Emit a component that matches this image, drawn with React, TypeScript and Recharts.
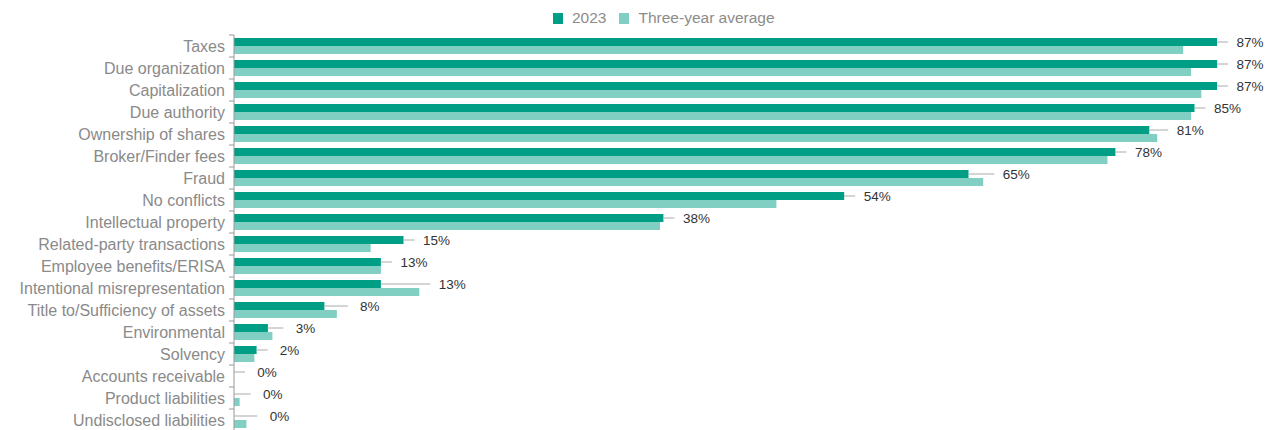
import React from 'react';
import { BarChart, Bar, XAxis, YAxis } from 'recharts';

const categories = [
  'Taxes',
  'Due organization',
  'Capitalization',
  'Due authority',
  'Ownership of shares',
  'Broker/Finder fees',
  'Fraud',
  'No conflicts',
  'Intellectual property',
  'Related-party transactions',
  'Employee benefits/ERISA',
  'Intentional misrepresentation',
  'Title to/Sufficiency of assets',
  'Environmental',
  'Solvency',
  'Accounts receivable',
  'Product liabilities',
  'Undisclosed liabilities',
];
const values2023 = [87, 87, 87, 85, 81, 78, 65, 54, 38, 15, 13, 13, 8, 3, 2, 0, 0, 0];
const valuesAvg = [84, 84.7, 85.6, 84.7, 81.7, 77.3, 66.3, 48, 37.7, 12.1, 13, 16.4, 9.1, 3.4, 1.8, 0, 0.5, 1.1];
const xMax = 90;

const DARK = '#009e85';
const LIGHT = '#80cfc2';
const FONT = '"Liberation Sans", Arial, sans-serif';

const WIDTH = 1266;
const HEIGHT = 431;
const MARGIN = { top: 35, right: 15, bottom: 0, left: 0 };
const Y_AXIS_W = 234;
const BAR = 8;
const PLOT_W = WIDTH - MARGIN.left - MARGIN.right - Y_AXIS_W;
const PLOT_H = HEIGHT - MARGIN.top - MARGIN.bottom;
const BAND = PLOT_H / categories.length;
const PPU = PLOT_W / xMax;

const data = categories.map((name, i) => ({
  name,
  y2023: values2023[i],
  avg: valuesAvg[i],
}));

// category label, boundary tick, and the leader + value label of the 2023 bar
const CategoryTick = (props: any) => {
  const { x, y, payload, index } = props;
  const v = values2023[index];
  const start = x + v * PPU;
  const reach = x + Math.max(v, valuesAvg[index]) * PPU + 11;
  const cy = y - BAR / 2;
  return (
    <g>
      <line x1={x - 5} x2={x} y1={y - BAND / 2} y2={y - BAND / 2} stroke="#999" />
      <text x={x - 9} y={y} dy="0.35em" textAnchor="end" fontSize={16} fill="#8a8a8a">
        {payload.value}
      </text>
      <line x1={start} x2={reach} y1={cy} y2={cy} stroke="#aaa" strokeWidth={1} />
      <text x={reach + 22} y={cy} dy="0.35em" textAnchor="middle" fontSize={13.5} fill="#333">
        {`${v}%`}
      </text>
    </g>
  );
};

const LegendItem = ({ color, label, gap }: { color: string; label: string; gap: number }) => (
  <span style={{ display: 'inline-flex', alignItems: 'center', marginRight: gap }}>
    <span style={{ width: 10, height: 11, background: color, display: 'inline-block', marginRight: 9 }} />
    <span>{label}</span>
  </span>
);

export default function App() {
  return (
    <div style={{ position: 'relative', width: WIDTH, height: 430, overflow: 'hidden', fontFamily: FONT }}>
      <style>{'html,body{margin:0;overflow:hidden;}'}</style>
      <div
        style={{
          position: 'absolute',
          left: 553,
          top: 9,
          fontSize: 15.5,
          color: '#8c8c8c',
          display: 'flex',
          alignItems: 'center',
          whiteSpace: 'nowrap',
        }}
      >
        <LegendItem color={DARK} label="2023" gap={13} />
        <LegendItem color={LIGHT} label="Three-year average" gap={0} />
      </div>
      <BarChart
        width={WIDTH}
        height={HEIGHT}
        data={data}
        layout="vertical"
        margin={MARGIN}
        barGap={0}
        barSize={BAR}
        style={{ fontFamily: FONT }}
      >
        <XAxis type="number" domain={[0, xMax]} hide />
        <YAxis
          type="category"
          dataKey="name"
          width={Y_AXIS_W}
          axisLine={{ stroke: '#999' }}
          tickLine={false}
          tickSize={0}
          tickMargin={0}
          interval={0}
          tick={<CategoryTick />}
        />
        <Bar dataKey="y2023" fill={DARK} isAnimationActive={false} />
        <Bar dataKey="avg" fill={LIGHT} isAnimationActive={false} />
      </BarChart>
    </div>
  );
}
